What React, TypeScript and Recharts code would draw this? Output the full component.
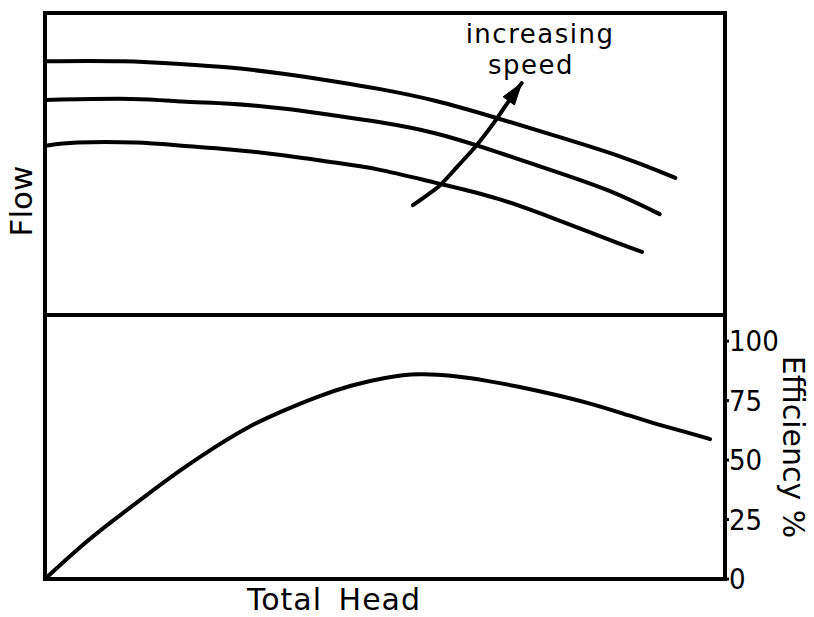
import { Line, LineChart, ReferenceDot, XAxis, YAxis } from "recharts";

// total head in % of the drawn range, flow in % of the upper panel height
const HEAD_HIGH = [0, 12, 20, 27, 35, 43, 48.5, 57.5, 66.5, 75.7, 85.6, 92.7];
const FLOW_HIGH = [84, 84.2, 83.1, 82.1, 80, 77.2, 75.2, 71.2, 65.2, 58.9, 52, 45.4];

const HEAD_MID = [0, 14, 20, 27, 35, 43, 48.5, 57.5, 66.5, 75.7, 83.1, 90.4];
const FLOW_MID = [71.2, 71.9, 70.5, 70.2, 68.5, 65.9, 64.2, 60.6, 54, 47, 41.4, 33.4];

const HEAD_LOW = [0, 3.7, 14, 20, 27, 35, 43, 48.5, 57.5, 66.5, 75.7, 80.6, 84.6, 87.8];
const FLOW_LOW = [56, 57.3, 57.3, 56, 55, 53, 50.3, 48.7, 43.7, 39.1, 31.2, 27, 23.5, 20.9];

const HEAD_ARROW = [54.1, 56, 58.1, 60.7, 63.5, 66.5, 68.4, 70.1];
const FLOW_ARROW = [36.4, 39.4, 43, 49.3, 56.3, 65.2, 71.5, 76.8];

const HEAD_EFF = [0, 5, 10, 15, 20, 25, 30, 35, 40, 45, 50, 55, 60, 65, 70, 75, 80, 85, 90, 95, 97.8];
const EFFICIENCY = [0, 13.3, 24.6, 35.4, 46, 55.6, 64.3, 70.8, 76.7, 81.5, 84.8, 86.5, 85.5, 83.4, 80.7, 77.5, 74, 69.6, 65, 61.2, 58.8];
const EFF_TICKS = [0, 25, 50, 75, 100];

const NOTE_LINES = ["increasing", "speed"];

const FONT = "'DejaVu Sans', Verdana, sans-serif";
const AXIS = { stroke: "#000", strokeWidth: 4, strokeLinecap: "square" as const };

const pts = (xs: number[], ys: number[]) => xs.map((h, i) => ({ h, q: ys[i] }));

const chartStyle = { position: "absolute" as const, left: 0, top: 0 };

function ArrowHead(props: any) {
  const { cx, cy, index, points } = props;
  if (index !== HEAD_ARROW.length - 1 || cx == null) return <g />;
  let ang = -Math.PI / 3;
  if (points && points[index - 1]) {
    const p = points[index - 1];
    ang = Math.atan2(cy - p.y, cx - p.x);
  }
  const len = 22;
  const half = 7;
  const bx = cx - Math.cos(ang) * len;
  const by = cy - Math.sin(ang) * len;
  const nx = -Math.sin(ang) * half;
  const ny = Math.cos(ang) * half;
  return (
    <polygon
      points={`${cx},${cy} ${bx + nx},${by + ny} ${bx - nx},${by - ny}`}
      fill="#000"
      stroke="#000"
      strokeWidth={1}
      strokeLinejoin="round"
    />
  );
}

function SpeedNote(props: any) {
  const { x, y } = props.viewBox;
  return (
    <text fontFamily={FONT} fontSize={26} letterSpacing={1.5} fill="#000" textAnchor="middle">
      <tspan x={x} y={y}>{NOTE_LINES[0]}</tspan>
      <tspan x={x - 9} y={y + 31}>{NOTE_LINES[1]}</tspan>
    </text>
  );
}

function FlowLabel(props: any) {
  const { x, y } = props.viewBox;
  const cx = x - 23;
  const cy = y + 188;
  return (
    <text
      x={cx}
      y={cy}
      transform={`rotate(-90 ${cx} ${cy})`}
      fontFamily={FONT}
      fontSize={31}
      fill="#000"
      textAnchor="middle"
      dominantBaseline="central"
    >
      Flow
    </text>
  );
}

function HeadLabel(props: any) {
  const { x, y } = props.viewBox;
  return (
    <text
      x={x + 289}
      y={y + 31}
      fontFamily={FONT}
      fontSize={30}
      letterSpacing={1}
      wordSpacing={6}
      fill="#000"
      textAnchor="middle"
    >
      Total Head
    </text>
  );
}

function EffLabel(props: any) {
  const { x, y, height } = props.viewBox;
  const cx = x + 68;
  const cy = y + height / 2;
  return (
    <text
      x={cx}
      y={cy}
      transform={`rotate(90 ${cx} ${cy})`}
      fontFamily={FONT}
      fontSize={30}
      fill="#000"
      textAnchor="middle"
      dominantBaseline="central"
    >
      Efficiency %
    </text>
  );
}

const lineProps = {
  dataKey: "q",
  type: "basis" as const,
  stroke: "#000",
  strokeWidth: 4,
  strokeLinecap: "round" as const,
  dot: false,
  isAnimationActive: false,
};

export default function App() {
  return (
    <div style={{ position: "absolute", left: 0, top: 0, width: 814, height: 617, background: "#fff" }}>
      <LineChart width={814} height={617} margin={{ top: 12, right: 88, bottom: 301, left: 44 }} style={chartStyle}>
        <XAxis dataKey="h" type="number" domain={[0, 100]} tick={false} tickLine={false} height={1} axisLine={AXIS} />
        <XAxis xAxisId="top" orientation="top" type="number" domain={[0, 100]} tick={false} tickLine={false} height={1} axisLine={AXIS} />
        <YAxis type="number" domain={[0, 100]} tick={false} tickLine={false} width={1} axisLine={AXIS} label={{ content: FlowLabel }} />
        <YAxis yAxisId="right" orientation="right" type="number" domain={[0, 100]} tick={false} tickLine={false} width={1} axisLine={AXIS} />
        <Line {...lineProps} data={pts(HEAD_HIGH, FLOW_HIGH)} />
        <Line {...lineProps} data={pts(HEAD_MID, FLOW_MID)} />
        <Line {...lineProps} data={pts(HEAD_LOW, FLOW_LOW)} />
        <Line {...lineProps} type="monotone" data={pts(HEAD_ARROW, FLOW_ARROW)} dot={ArrowHead} />
        <ReferenceDot x={72.8} y={90} r={0} fill="none" stroke="none" ifOverflow="visible" label={{ content: SpeedNote }} />
      </LineChart>

      <LineChart width={814} height={617} margin={{ top: 315, right: 88, bottom: 37, left: 44 }} style={chartStyle}>
        <XAxis dataKey="h" type="number" domain={[0, 100]} tick={false} tickLine={false} height={1} axisLine={AXIS} label={{ content: HeadLabel }} />
        <YAxis type="number" domain={[0, 111]} tick={false} tickLine={false} width={1} axisLine={AXIS} />
        <YAxis
          yAxisId="eff"
          orientation="right"
          type="number"
          domain={[0, 111]}
          ticks={EFF_TICKS}
          interval={0}
          width={1}
          tickSize={4}
          tickMargin={0}
          tickLine={{ stroke: "#000", strokeWidth: 3 }}
          tick={{ fill: "#000", fontSize: 29, fontFamily: "'Liberation Sans Narrow', 'DejaVu Sans Condensed', 'Liberation Sans', sans-serif" }}
          axisLine={AXIS}
          label={{ content: EffLabel }}
        />
        <Line {...lineProps} yAxisId="eff" data={pts(HEAD_EFF, EFFICIENCY)} />
      </LineChart>
    </div>
  );
}
